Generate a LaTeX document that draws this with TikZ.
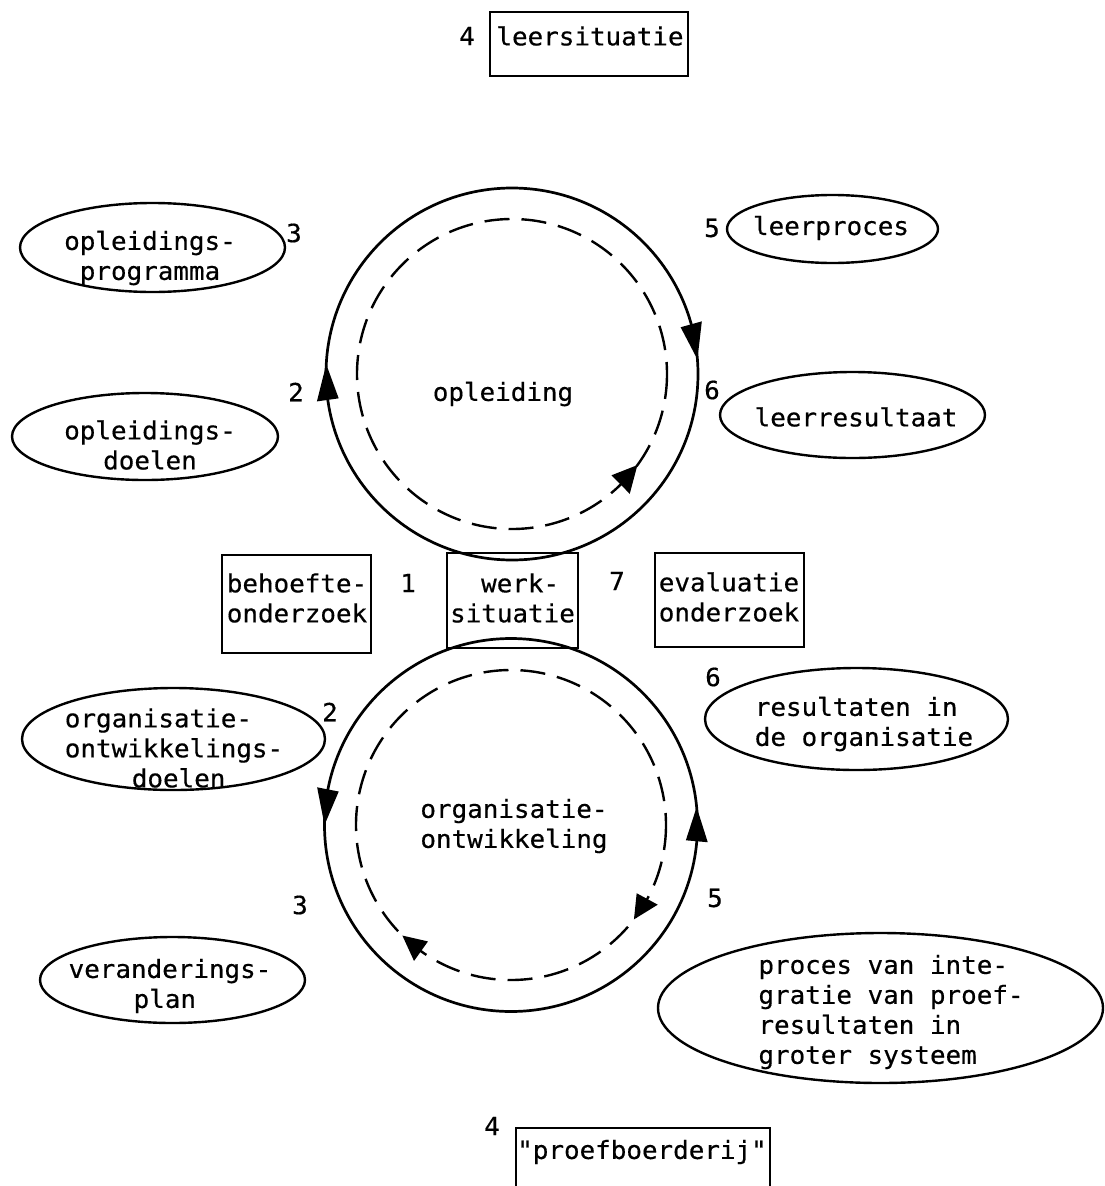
\documentclass[tikz,border=0pt]{standalone}
\usepackage{fontspec}
\setmainfont{DejaVu Sans Mono}[Ligatures=TeXOff,FakeStretch=1.036,FakeBold=0.5]
\usetikzlibrary{calc}
% filled arrowhead on a circle: centre, radius, tip angle, base angle, half width
\newcommand{\arrowtri}[5]{%
  \fill ($(#1)+(#3:#2)$) -- ($(#1)+(#4:{#2-#5})$) -- ($(#1)+(#4:{#2+#5})$) -- cycle;}
\begin{document}
\begin{tikzpicture}[x=1pt,y=-1pt,
  txt/.style={inner sep=0pt, font=\fontsize{25}{30}\selectfont},
  num/.style={txt},
  frame/.style={line width=2pt},
  oval/.style={line width=2.4pt},
  ring/.style={line width=2.7pt},
  dring/.style={line width=2.4pt, dash pattern=on 25pt off 12pt},
]
\useasboundingbox (0,0) rectangle (1105,1186);
\clip (0,0) rectangle (1105,1186);

\coordinate (C1) at (512,374);
\coordinate (C2) at (511,825);

% boxes
\draw[frame] (490,12) rectangle (688,76);
\draw[frame] (222,555) rectangle (371,653);
\draw[frame] (447,553) rectangle (578,648);
\draw[frame] (655,553) rectangle (804,647);
\draw[frame] (516,1128) rectangle (770,1200);

% circles
\draw[ring] (C1) circle [radius=186];
\draw[dring] (C1) circle [radius=155];
\draw[ring] (C2) circle [radius=186.5];
\draw[dring] (C2) circle [radius=155];

% arrowheads
\arrowtri{C1}{186}{183}{172}{11}
\arrowtri{C1}{186}{-4.5}{-15.5}{11}
\arrowtri{C1}{155}{36}{45.5}{13}
\arrowtri{C2}{186.5}{180}{191}{11}
\arrowtri{C2}{186.5}{-5.5}{5}{11}
\arrowtri{C2}{155}{37.5}{28.5}{12}
\arrowtri{C2}{155}{134.5}{125.5}{12}

% ellipses
\draw[oval] (152.5,247.5) ellipse [x radius=132.5, y radius=44.5];
\draw[oval] (145,436.5) ellipse [x radius=133, y radius=43.5];
\draw[oval] (832.5,229) ellipse [x radius=105.5, y radius=34];
\draw[oval] (852.5,415) ellipse [x radius=132.5, y radius=43];
\draw[oval] (173.5,739) ellipse [x radius=151.5, y radius=51];
\draw[oval] (172.5,980) ellipse [x radius=132.5, y radius=43];
\draw[oval] (856.5,719) ellipse [x radius=151.5, y radius=51];
\draw[oval] (880.5,1008) ellipse [x radius=222.5, y radius=75];

% texts
\node[num] (n4a) at (467,36) {4};
\node[txt] (leer) at (590,36) {leersituatie};
\node[txt] (opl) at (503,394) {opleiding};
\node[num] (n3a) at (294,233) {3};
\node[txt, align=center] (prog) at (150,258) {opleidings-\\programma};
\node[num] (n2a) at (296,392) {2};
\node[txt, align=center] (odoel) at (150,445) {opleidings-\\doelen};
\node[num] (n5a) at (712,228) {5};
\node[txt] (lproc) at (831,228) {leerproces};
\node[num] (n6a) at (712,390) {6};
\node[txt] (lres) at (856,417) {leerresultaat};
\node[txt, align=left] (beh) at (297,598) {behoefte-\\onderzoek};
\node[num] (n1) at (408,583) {1};
\node[txt, align=left] (werk) at (512.5,598) {\hspace*{31pt}werk-\\situatie};
\node[num] (n7) at (617,581) {7};
\node[txt, align=left] (eval) at (729,597) {evaluatie\\onderzoek};
\node[txt, align=center] (oo) at (514,826) {organisatie-\\ontwikkeling};
\node[num] (n2b) at (330,712) {2};
\node[txt, align=left] (ood) at (174,748) {organisatie-\\ontwikkelings-\\\hspace*{67pt}doelen};
\node[num] (n3b) at (300,905) {3};
\node[txt, align=left] (vp) at (170,986) {veranderings-\\\hspace*{65pt}plan};
\node[num] (n6b) at (713,677) {6};
\node[txt, align=left] (rio) at (864,724) {resultaten in\\de organisatie};
\node[num] (n5b) at (715,898) {5};
\node[txt, align=left] (proc) at (891,1012) {proces van inte-\\gratie van proef-\\resultaten in\\groter systeem};
\node[num] (n4b) at (492,1126) {4};
\node[txt] (pb) at (642,1152) {"proefboerderij"};
\end{tikzpicture}
\end{document}
